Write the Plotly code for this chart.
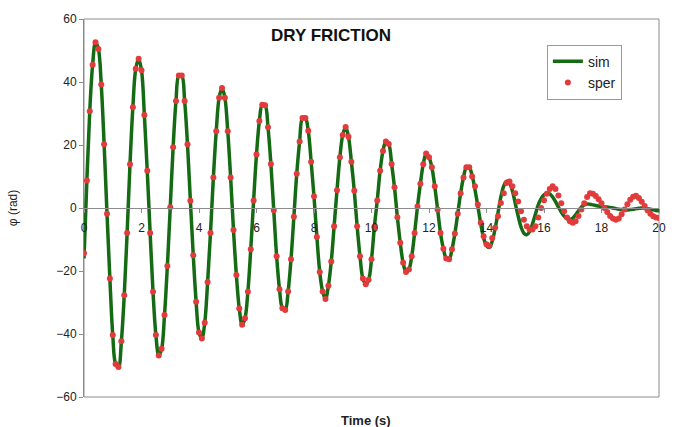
import plotly.graph_objects as go

# sampling times (s)
time_s = [
    0.0, 0.1, 0.2, 0.3, 0.4, 0.5, 0.6, 0.7, 0.8, 0.9,
    1.0, 1.1, 1.2, 1.3, 1.4, 1.5, 1.6, 1.7, 1.8, 1.9,
    2.0, 2.1, 2.2, 2.3, 2.4, 2.5, 2.6, 2.7, 2.8, 2.9,
    3.0, 3.1, 3.2, 3.3, 3.4, 3.5, 3.6, 3.7, 3.8, 3.9,
    4.0, 4.1, 4.2, 4.3, 4.4, 4.5, 4.6, 4.7, 4.8, 4.9,
    5.0, 5.1, 5.2, 5.3, 5.4, 5.5, 5.6, 5.7, 5.8, 5.9,
    6.0, 6.1, 6.2, 6.3, 6.4, 6.5, 6.6, 6.7, 6.8, 6.9,
    7.0, 7.1, 7.2, 7.3, 7.4, 7.5, 7.6, 7.7, 7.8, 7.9,
    8.0, 8.1, 8.2, 8.3, 8.4, 8.5, 8.6, 8.7, 8.8, 8.9,
    9.0, 9.1, 9.2, 9.3, 9.4, 9.5, 9.6, 9.7, 9.8, 9.9,
    10.0, 10.1, 10.2, 10.3, 10.4, 10.5, 10.6, 10.7, 10.8, 10.9,
    11.0, 11.1, 11.2, 11.3, 11.4, 11.5, 11.6, 11.7, 11.8, 11.9,
    12.0, 12.1, 12.2, 12.3, 12.4, 12.5, 12.6, 12.7, 12.8, 12.9,
    13.0, 13.1, 13.2, 13.3, 13.4, 13.5, 13.6, 13.7, 13.8, 13.9,
    14.0, 14.1, 14.2, 14.3, 14.4, 14.5, 14.6, 14.7, 14.8, 14.9,
    15.0, 15.1, 15.2, 15.3, 15.4, 15.5, 15.6, 15.7, 15.8, 15.9,
    16.0, 16.1, 16.2, 16.3, 16.4, 16.5, 16.6, 16.7, 16.8, 16.9,
    17.0, 17.1, 17.2, 17.3, 17.4, 17.5, 17.6, 17.7, 17.8, 17.9,
    18.0, 18.1, 18.2, 18.3, 18.4, 18.5, 18.6, 18.7, 18.8, 18.9,
    19.0, 19.1, 19.2, 19.3, 19.4, 19.5, 19.6, 19.7, 19.8, 19.9,
    20.0,
]

# experimental data (sper), phi in rad
sper_phi = [
    -14.4, 8.7, 30.7, 45.5, 52.6, 50.5, 39.2, 20.2, -1.8, -22.4,
    -40.3, -49.5, -50.5, -42.3, -27.7, -7.9, 13.9, 32.0, 44.2, 47.4,
    43.7, 29.5, 11.8, -7.9, -26.6, -40.3, -46.8, -44.7, -34.0, -18.4,
    0.2, 19.3, 34.0, 42.1, 42.1, 34.0, 20.2, 2.3, -15.0, -29.8,
    -39.5, -41.4, -36.4, -23.5, -7.9, 9.7, 24.4, 35.0, 38.1, 35.0,
    24.4, 9.7, -7.0, -21.3, -31.9, -37.1, -35.0, -26.6, -13.1, 2.4,
    17.0, 27.6, 32.8, 32.6, 25.6, 14.0, -0.7, -15.3, -25.8, -31.8,
    -32.4, -26.5, -16.3, -2.8, 10.9, 21.1, 28.6, 28.6, 24.5, 14.7,
    3.7, -9.2, -20.3, -26.5, -28.9, -24.7, -17.0, -5.8, 5.6, 16.1,
    23.2, 25.7, 22.6, 14.7, 5.5, -5.8, -15.3, -22.4, -24.2, -22.8,
    -16.3, -6.0, 2.4, 11.8, 18.1, 21.1, 20.3, 14.0, 6.6, -2.9,
    -11.0, -17.4, -20.3, -19.5, -15.3, -7.9, 0.5, 7.7, 13.9, 17.3,
    16.1, 12.9, 6.9, -0.5, -7.9, -12.9, -16.0, -16.3, -13.1, -8.1,
    -1.8, 4.7, 9.7, 12.9, 12.9, 10.0, 6.9, 1.1, -4.7, -9.0,
    -11.5, -12.0, -9.5, -6.3, -2.6, 1.6, 4.7, 7.9, 8.4, 6.9,
    4.7, 2.1, -1.0, -3.7, -5.8, -6.8, -6.8, -5.8, -3.0, 0.0,
    2.5, 4.5, 6.0, 6.9, 6.0, 4.0, 1.5, -1.0, -3.0, -4.2,
    -4.7, -4.2, -2.5, -0.5, 1.5, 3.5, 4.7, 4.5, 3.8, 2.8,
    1.5, 0.0, -1.3, -2.5, -3.3, -3.7, -3.3, -2.0, -0.5, 1.2,
    2.6, 3.6, 3.9, 3.2, 2.0, 0.6, -0.7, -1.8, -2.6, -3.0,
    -3.2,
]

# simulation (sim), phi in rad
sim_phi = [
    -16.0, 8.7, 30.7, 45.5, 52.6, 50.5, 39.2, 20.2, -1.8, -22.4,
    -40.3, -49.5, -50.5, -42.3, -27.7, -7.9, 13.9, 32.0, 44.2, 47.4,
    43.7, 29.5, 11.8, -7.9, -26.6, -40.3, -46.8, -44.7, -34.0, -18.4,
    0.2, 19.3, 34.0, 42.1, 42.1, 34.0, 20.2, 2.3, -15.0, -29.8,
    -39.5, -41.4, -36.4, -23.5, -7.9, 9.7, 24.4, 35.0, 38.1, 35.0,
    24.4, 9.7, -7.0, -21.3, -31.9, -37.1, -35.0, -26.6, -13.1, 2.4,
    17.0, 27.6, 32.8, 32.6, 25.6, 14.0, -0.7, -15.3, -25.8, -31.8,
    -32.4, -26.5, -16.3, -2.8, 10.9, 21.1, 28.6, 28.6, 24.5, 14.7,
    3.7, -9.2, -20.3, -26.5, -28.9, -24.7, -17.0, -5.8, 5.6, 16.1,
    23.2, 25.7, 22.6, 14.7, 5.5, -5.8, -15.3, -22.4, -24.2, -22.8,
    -16.3, -6.0, 2.4, 11.8, 18.1, 21.1, 20.3, 14.0, 6.6, -2.9,
    -11.0, -17.4, -20.3, -19.5, -15.3, -7.9, 0.5, 7.7, 13.9, 17.3,
    16.1, 12.9, 6.9, -0.5, -7.9, -12.9, -16.0, -16.3, -13.1, -8.1,
    -1.8, 4.7, 9.7, 12.9, 12.9, 10.3, 5.8, 0.5, -5.0, -9.5,
    -12.0, -12.5, -10.5, -6.5, -1.5, 3.5, 7.0, 8.5, 8.0, 5.5,
    1.5, -2.5, -6.0, -8.0, -8.5, -7.5, -5.0, -2.0, 1.0, 3.0,
    4.2, 4.6, 4.5, 3.5, 2.0, 0.3, -1.3, -2.6, -3.4, -3.6,
    -3.2, -2.2, -0.9, 0.3, 1.0, 1.3, 1.2, 1.0, 0.8, 0.6,
    0.5, 0.4, 0.3, 0.2, 0.0, -0.2, -0.4, -0.5, -0.6, -0.6,
    -0.5, -0.4, -0.2, -0.1, 0.0, 0.0, -0.2, -0.4, -0.6, -0.8,
    -0.9,
]

x_ticks = [0, 2, 4, 6, 8, 10, 12, 14, 16, 18, 20]
y_ticks = [-60, -40, -20, 0, 20, 40, 60]

AXIS_GRAY = "#8c8c8c"
FONT = "Liberation Sans, Arial, sans-serif"

fig = go.Figure()
fig.add_trace(go.Scatter(
    x=time_s, y=sim_phi, mode="lines", name="sim",
    line=dict(color="#146b14", width=3.5, shape="spline", smoothing=1.0),
))
fig.add_trace(go.Scatter(
    x=time_s, y=sper_phi, mode="markers", name="sper",
    marker=dict(color="#e23b3b", size=6),
))

fig.update_layout(
    width=678, height=427,
    margin=dict(l=81, r=14, t=17, b=30),
    paper_bgcolor="white", plot_bgcolor="white",
    font=dict(family=FONT, size=12, color="#222222"),
    showlegend=True,
    legend=dict(
        x=0.805, y=0.932, xanchor="left", yanchor="top",
        bordercolor="#999999", borderwidth=1, bgcolor="white",
        font=dict(size=14, color="#222222"), itemwidth=30,
        tracegroupgap=0,
    ),
    xaxis=dict(
        range=[0, 20], tickvals=x_ticks, anchor="free", position=0.5,
        showline=True, linecolor=AXIS_GRAY, linewidth=1,
        ticks="outside", ticklen=4, tickcolor=AXIS_GRAY,
        showgrid=False, zeroline=False, ticklabelstandoff=5,
        tickfont=dict(size=12, color="#222222"),
    ),
    yaxis=dict(
        range=[-60, 60], tickvals=y_ticks,
        showline=True, linecolor=AXIS_GRAY, linewidth=1,
        ticks="outside", ticklen=4, tickcolor=AXIS_GRAY,
        showgrid=False, zeroline=False,
        tickfont=dict(size=12, color="#222222"),
        title=dict(text="φ (rad)", standoff=36, font=dict(size=12, color="#222222")),
    ),
    shapes=[dict(
        type="rect", xref="paper", yref="paper", x0=0, x1=1, y0=0, y1=1,
        line=dict(color=AXIS_GRAY, width=1), layer="below",
    )],
    annotations=[
        dict(text="<b>DRY FRICTION</b>", xref="paper", yref="paper",
             x=0.43, y=0.957, xanchor="center", yanchor="middle",
             showarrow=False, font=dict(size=17, color="#111111")),
        dict(text="<b>Time (s)</b>", xref="paper", yref="paper",
             x=0.49, y=-0.061, xanchor="center", yanchor="middle",
             showarrow=False, font=dict(size=13, color="#222222")),
    ],
)

fig.write_html(
    "out.html",
    config={"displayModeBar": False},
    post_script="document.body.style.margin='0';document.body.style.padding='0';document.body.style.overflow='hidden';",
)
